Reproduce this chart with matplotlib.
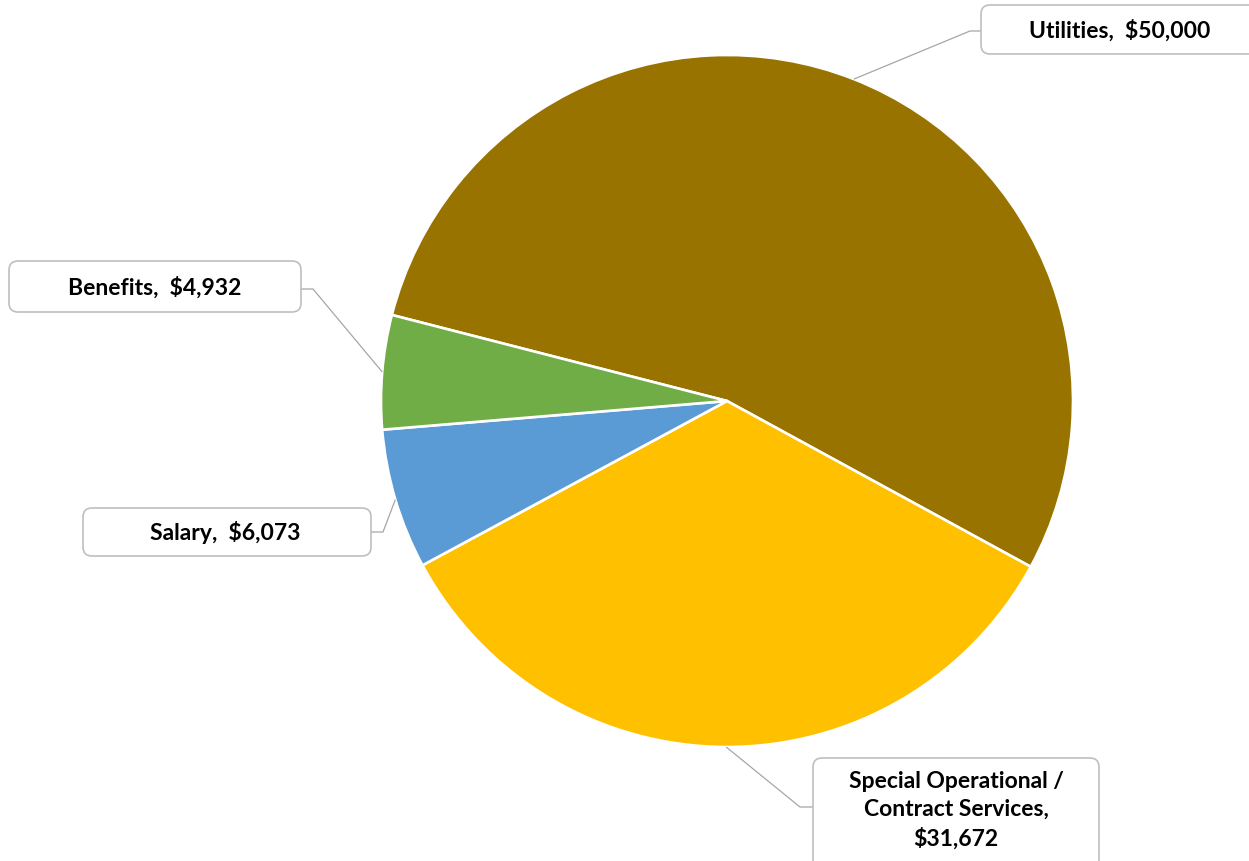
import matplotlib as mpl
mpl.use('Agg')

import numpy as np
import matplotlib.pyplot as plt
from matplotlib.patches import FancyBboxPatch

# data
labels = ['Utilities', 'Special Operational /\nContract Services', 'Salary', 'Benefits']
values = [50000, 31672, 6073, 4932]
colors = ['#997300', '#FFC000', '#5B9BD5', '#70AD47']

W, H = 1249, 862
fig = plt.figure(figsize=(W / 100, H / 100), dpi=100)
ax = fig.add_axes([0, 0, 1, 1])
ax.set_xlim(0, W)
ax.set_ylim(0, H)
ax.set_aspect('equal')
ax.axis('off')

# pie centre / radius in pixels (y measured from bottom)
cx, cy, r = 727, H - 402, 346

wedges, _ = ax.pie(values, colors=colors, startangle=165.6, counterclock=False,
                   center=(cx, cy), radius=r, frame=True,
                   wedgeprops=dict(edgecolor='white', linewidth=1.9))
ax.set_xlim(0, W)
ax.set_ylim(0, H)
ax.axis('off')

# label boxes: (x0, y0_top, x1, y1_bottom) in pixels from top-left, plus elbow and box attach points
boxes = [(981, 6, 1262, 55), (813, 759, 1099, 875), (83, 509, 371, 557), (9, 262, 301, 313)]
elbows = [((970, 32), (981, 32)), ((800, 808), (813, 808)),
          ((383, 533), (371, 533)), ((313, 290), (301, 290))]
text_xy = [(1120, 31), (956, 810), (225, 533), (155, 288)]

for w, lab, v, (x0, y0, x1, y1), (e1, e2), (tx, ty) in zip(wedges, labels, values, boxes, elbows, text_xy):
    ang = np.deg2rad((w.theta1 + w.theta2) / 2)
    ax_, ay_ = cx + r * np.cos(ang), cy + r * np.sin(ang)
    ax.plot([ax_, e1[0], e2[0]], [ay_, H - e1[1], H - e2[1]], color='#A6A6A6', lw=0.9,
            solid_capstyle='butt', zorder=1)
    box = FancyBboxPatch((x0, H - y1), x1 - x0, y1 - y0,
                         boxstyle='round,pad=0,rounding_size=9',
                         fc='white', ec='#BFBFBF', lw=1.2, zorder=3)
    ax.add_patch(box)
    txt = '{},  ${:,}'.format(lab, v)
    if '\n' in lab:
        txt = '{},\n${:,}'.format(lab, v)
    ax.text(tx, H - ty, txt, ha='center', va='center', fontsize=16.5, fontweight='bold',
            family='Lato', color='black', linespacing=1.4, zorder=4)

plt.savefig('out.png', dpi=100)
